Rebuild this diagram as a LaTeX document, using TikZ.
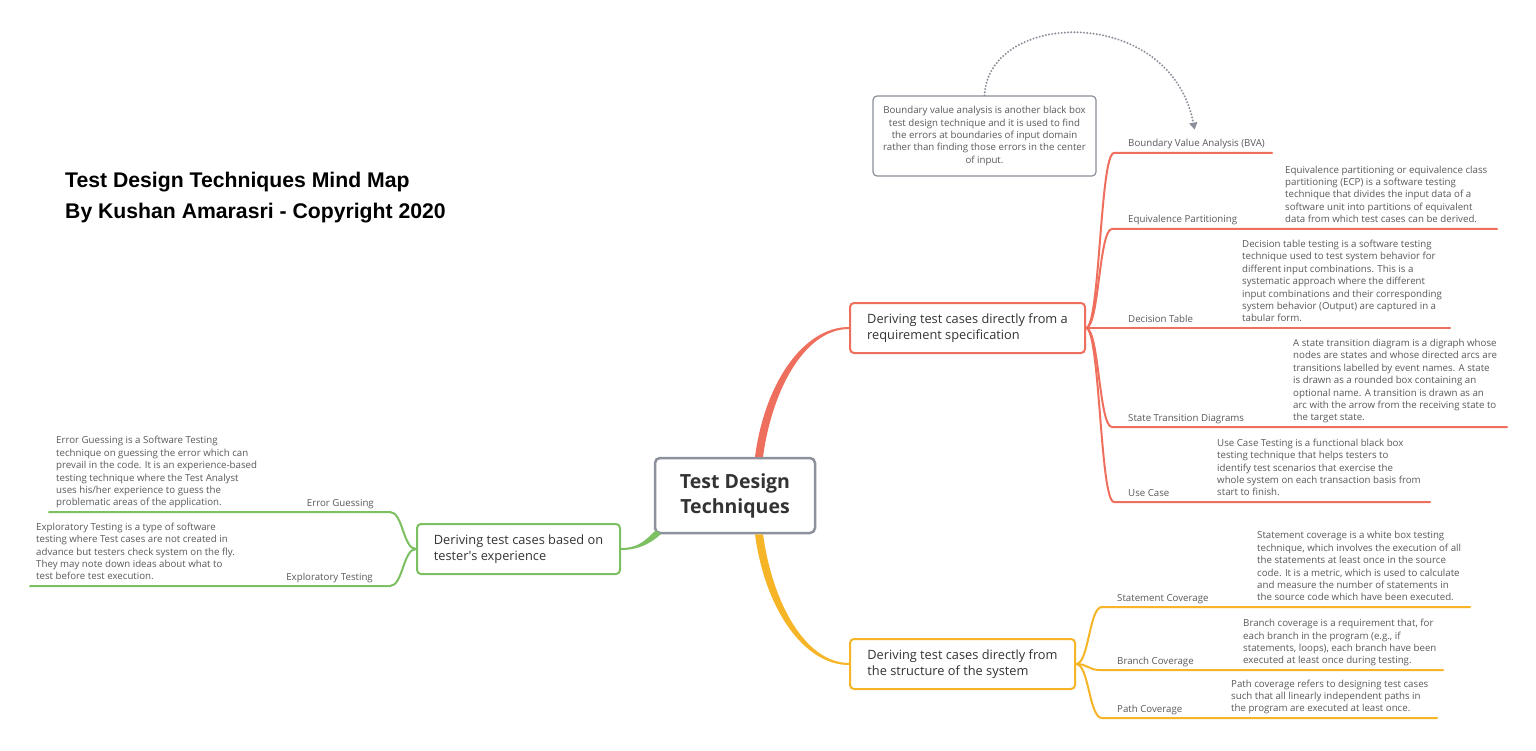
\documentclass[tikz,border=0pt]{standalone}
\usepackage{fontspec}
\setmainfont{Open Sans}
\newfontfamily\titlefont{Liberation Sans}
\usetikzlibrary{calc,arrows.meta}
\definecolor{reqred}{HTML}{EF6F5E}
\definecolor{structyellow}{HTML}{F6B526}
\definecolor{expgreen}{HTML}{7DC062}
\definecolor{rootgray}{HTML}{8C919B}
\definecolor{calloutgray}{HTML}{8A8F99}
\definecolor{notegray}{HTML}{5A5A5A}
\definecolor{topictext}{HTML}{333333}
\tikzset{
  topic/.style={draw, fill=white, rounded corners=4pt, line width=2pt, align=left,
    text=topictext, font=\fontsize{12.8}{16.5}\selectfont},
  leaf/.style={inner sep=0pt, text=notegray, font=\fontsize{9.7}{12.4}\selectfont},
  note/.style={leaf, align=left, text depth=2.5pt, anchor=south west},
  underl/.style={line width=2pt, line cap=round},
}
% curve from a topic to the start of a child's underline, then the underline
\newcommand{\spine}[4]{%
\draw[#1, underl] (#2) .. controls ($(#2)!0.5!(#3 |- #2)$) and ($(#3)!0.5!(#2 |- #3)$) .. (#3) -- (#4);
}

\begin{document}
\begin{tikzpicture}[x=1pt, y=-1pt]
\useasboundingbox (0,0) rectangle (1536,751);
\fill[white] (0,0) rectangle (1536,751);

% title
\node[anchor=north west, inner sep=0pt, align=left, text=black,
  font=\titlefont\bfseries\fontsize{21.2}{31}\selectfont] at (65, 172) (title)
  {Test Design Techniques Mind Map\\By Kushan Amarasri - Copyright 2020};

% topics
\node[draw=rootgray, fill=white, rounded corners=5pt, line width=2.5pt, minimum width=160pt,
  minimum height=75pt, align=center, text=topictext,
  font=\bfseries\fontsize{19.5}{25}\selectfont] at (735, 495.5) (root) {Test Design\\Techniques};
\node[topic, draw=reqred, minimum width=235pt, minimum height=50pt] at (967.5, 328) (req)
  {Deriving test cases directly from a\\requirement specification};
\node[topic, draw=structyellow, minimum width=225pt, minimum height=50pt] at (962.5, 664) (str)
  {Deriving test cases directly from\\the structure of the system};
\node[topic, draw=expgreen, minimum width=203pt, minimum height=50pt] at (518.5, 549) (exp)
  {Deriving test cases based on\\tester\textquotesingle s experience};

% thick links from the root
\fill[reqred] ([xshift=20pt]root.north) .. controls +(10,-75) and +(-45,0) .. ([yshift=1pt]req.west)
  -- ([yshift=-1pt]req.west) .. controls +(-42,0) and +(10,-72) .. ([xshift=28pt]root.north) -- cycle;
\fill[structyellow] ([xshift=20pt]root.south) .. controls +(10,75) and +(-45,0) .. ([yshift=-1pt]str.west)
  -- ([yshift=1pt]str.west) .. controls +(-42,0) and +(10,72) .. ([xshift=28pt]root.south) -- cycle;
\fill[expgreen] ([xshift=2pt,yshift=4pt]root.south west) .. controls +(-12,12) and +(16,0) .. ([yshift=1pt]exp.east)
  -- ([yshift=-1pt]exp.east) .. controls +(18,0) and +(-10,9) .. ([xshift=7pt]root.south west) -- cycle;

% requirement specification
\node[leaf, anchor=base west] at (1128, 147) (bva) {Boundary Value Analysis (BVA)};
\coordinate (bva-s) at (1114, 153);
\coordinate (bva-e) at (1272, 153);
\node[leaf, anchor=base west] at (1128, 223) (ecp) {Equivalence Partitioning};
\coordinate (ecp-s) at (1112, 229);
\coordinate (ecp-e) at (1497, 229);
\node[note] at (1285, 225.5) (ecp-note) {Equivalence partitioning or equivalence class\\
  partitioning (ECP) is a software testing\\technique that divides the input data of a\\
  software unit into partitions of equivalent\\data from which test cases can be derived.};
\node[leaf, anchor=base west] at (1128, 322) (dt) {Decision Table};
\coordinate (dt-s) at (1100, 328);
\coordinate (dt-e) at (1450, 328);
\node[note] at (1242, 324.5) (dt-note) {Decision table testing is a software testing\\
  technique used to test system behavior for\\different input combinations. This is a\\
  systematic approach where the different\\input combinations and their corresponding\\
  system behavior (Output) are captured in a\\tabular form.};
\node[leaf, anchor=base west] at (1128, 421) (std) {State Transition Diagrams};
\coordinate (std-s) at (1112, 427);
\coordinate (std-e) at (1507, 427);
\node[note] at (1293, 423.5) (std-note) {A state transition diagram is a digraph whose\\
  nodes are states and whose directed arcs are\\transitions labelled by event names. A state\\
  is drawn as a rounded box containing an\\optional name. A transition is drawn as an\\
  arc with the arrow from the receiving state to\\the target state.};
\node[leaf, anchor=base west] at (1128, 496) (uc) {Use Case};
\coordinate (uc-s) at (1114, 502);
\coordinate (uc-e) at (1430, 502);
\node[note] at (1217, 498.5) (uc-note) {Use Case Testing is a functional black box\\
  testing technique that helps testers to\\identify test scenarios that exercise the\\
  whole system on each transaction basis from\\start to finish.};
\spine{reqred}{req.east}{bva-s}{bva-e}
\spine{reqred}{req.east}{ecp-s}{ecp-e}
\spine{reqred}{req.east}{dt-s}{dt-e}
\spine{reqred}{req.east}{std-s}{std-e}
\spine{reqred}{req.east}{uc-s}{uc-e}

% callout on BVA
\node[leaf, draw=calloutgray, line width=1.2pt, rounded corners=4pt, minimum width=223pt,
  minimum height=80pt, align=center] at (984.5, 136) (bva-callout)
  {Boundary value analysis is another black box\\test design technique and it is used to find\\
  the errors at boundaries of input domain\\rather than finding those errors in the center\\of input.};
\draw[calloutgray, line width=2.2pt, dash pattern=on 0pt off 3.2pt, line cap=round, shorten >=10pt,
  -{Triangle[width=8pt,length=7pt]}] (bva-callout.north) .. controls +(4,-86) and +(-26,-135) .. (bva.north);

% structure of the system
\node[leaf, anchor=base west] at (1117, 601) (sc) {Statement Coverage};
\coordinate (sc-s) at (1102, 607);
\coordinate (sc-e) at (1470, 607);
\node[note] at (1257, 603.5) (sc-note) {Statement coverage is a white box testing\\
  technique, which involves the execution of all\\the statements at least once in the source\\
  code. It is a metric, which is used to calculate\\and measure the number of statements in\\
  the source code which have been executed.};
\node[leaf, anchor=base west] at (1117, 664) (bc) {Branch Coverage};
\coordinate (bc-s) at (1100, 670);
\coordinate (bc-e) at (1443, 670);
\node[note] at (1243, 666.5) (bc-note) {Branch coverage is a requirement that, for\\
  each branch in the program (e.g., if\\statements, loops), each branch have been\\
  executed at least once during testing.};
\node[leaf, anchor=base west] at (1117, 712) (pc) {Path Coverage};
\coordinate (pc-s) at (1102, 718);
\coordinate (pc-e) at (1437, 718);
\node[note] at (1231, 714.5) (pc-note) {Path coverage refers to designing test cases\\
  such that all linearly independent paths in\\the program are executed at least once.};
\spine{structyellow}{str.east}{sc-s}{sc-e}
\spine{structyellow}{str.east}{bc-s}{bc-e}
\spine{structyellow}{str.east}{pc-s}{pc-e}

% tester's experience
\node[leaf, anchor=base east] at (374, 506) (eg) {Error Guessing};
\coordinate (eg-s) at (390, 512);
\coordinate (eg-e) at (49, 512);
\node[note] at (56, 508.5) (eg-note) {Error Guessing is a Software Testing\\
  technique on guessing the error which can\\prevail in the code. It is an experience-based\\
  testing technique where the Test Analyst\\uses his/her experience to guess the\\
  problematic areas of the application.};
\node[leaf, anchor=base east] at (373, 580) (et) {Exploratory Testing};
\coordinate (et-s) at (390, 586);
\coordinate (et-e) at (30, 586);
\node[note] at (36, 582.5) (et-note) {Exploratory Testing is a type of software\\
  testing where Test cases are not created in\\advance but testers check system on the fly.\\
  They may note down ideas about what to\\test before test execution.};
\spine{expgreen}{exp.west}{eg-s}{eg-e}
\spine{expgreen}{exp.west}{et-s}{et-e}
\end{tikzpicture}
\end{document}
